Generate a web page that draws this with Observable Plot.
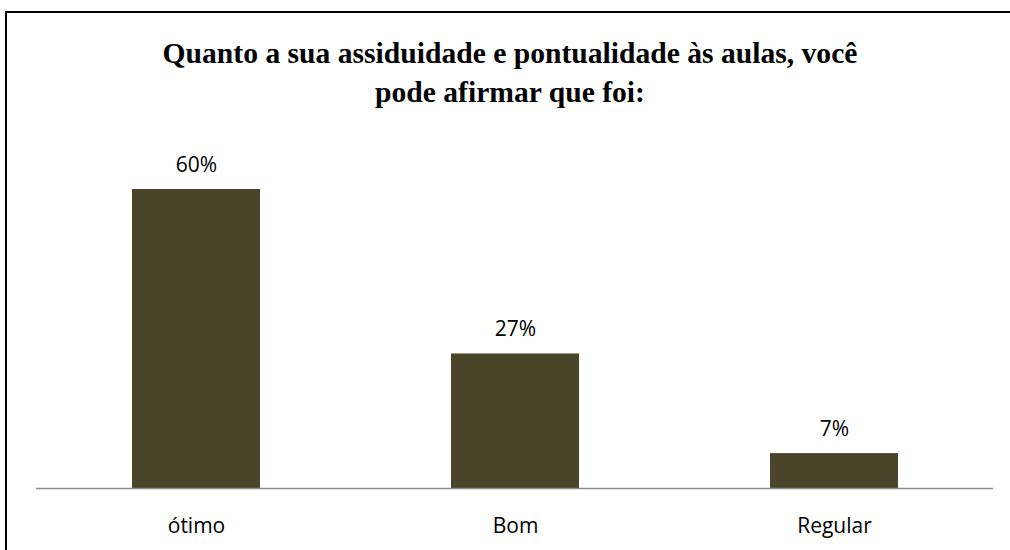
<!DOCTYPE html>
<html>
<head>
<meta charset="utf-8">
<script src="https://cdn.jsdelivr.net/npm/d3@7"></script>
<script src="https://cdn.jsdelivr.net/npm/@observablehq/plot@0.6"></script>
<style>
  html, body { margin: 0; padding: 0; background: #fff; }
  #page { position: relative; width: 1010px; height: 550px; overflow: hidden; background: #fff; }
  #frame { position: absolute; left: 5px; top: 11px; width: 1100px; height: 700px;
           border-left: 2px solid #000; border-top: 2px solid #000; box-sizing: border-box; }
  #title { position: absolute; left: 0; width: 1020px; top: 34px; text-align: center;
           font-family: "Liberation Serif", "Times New Roman", serif; font-weight: bold;
           font-size: 29.6px; line-height: 39px; color: #000; }
  #chart { position: absolute; left: 0; top: 130px; }
</style>
</head>
<body>
<div id="page">
  <div id="frame"></div>
  <div id="title">Quanto a sua assiduidade e pontualidade às aulas, você<br>pode afirmar que foi:</div>
  <div id="chart"></div>
</div>
<script>
const categories = ["ótimo", "Bom", "Regular"];
const values = [60, 27, 7];
const labels = ["60%", "27%", "7%"];

const data = categories.map((c, i) => ({category: c, value: values[i], label: labels[i]}));

const chart = Plot.plot({
  width: 1010,
  height: 420,
  marginLeft: 36,
  marginRight: 17,
  marginTop: 59,
  marginBottom: 62,
  style: {fontFamily: "'Open Sans', sans-serif", background: "transparent", color: "#000"},
  x: {domain: categories, paddingInner: 0.6, paddingOuter: 0.3, axis: null},
  y: {domain: [0, 60], axis: null},
  marks: [
    Plot.barY(data, {x: "category", y: "value", fill: "#4a452a"}),
    Plot.ruleY([0], {stroke: "#8c8c8c", strokeWidth: 1.5}),
    Plot.text(data, {x: "category", y: "value", text: "label", dy: -18, lineAnchor: "bottom",
                     fontSize: 21, fill: "#000"}),
    Plot.axisX({tickSize: 0, tickPadding: 30, fontSize: 21, color: "#000", label: null})
  ]
});
document.getElementById("chart").appendChild(chart);
</script>
</body>
</html>
